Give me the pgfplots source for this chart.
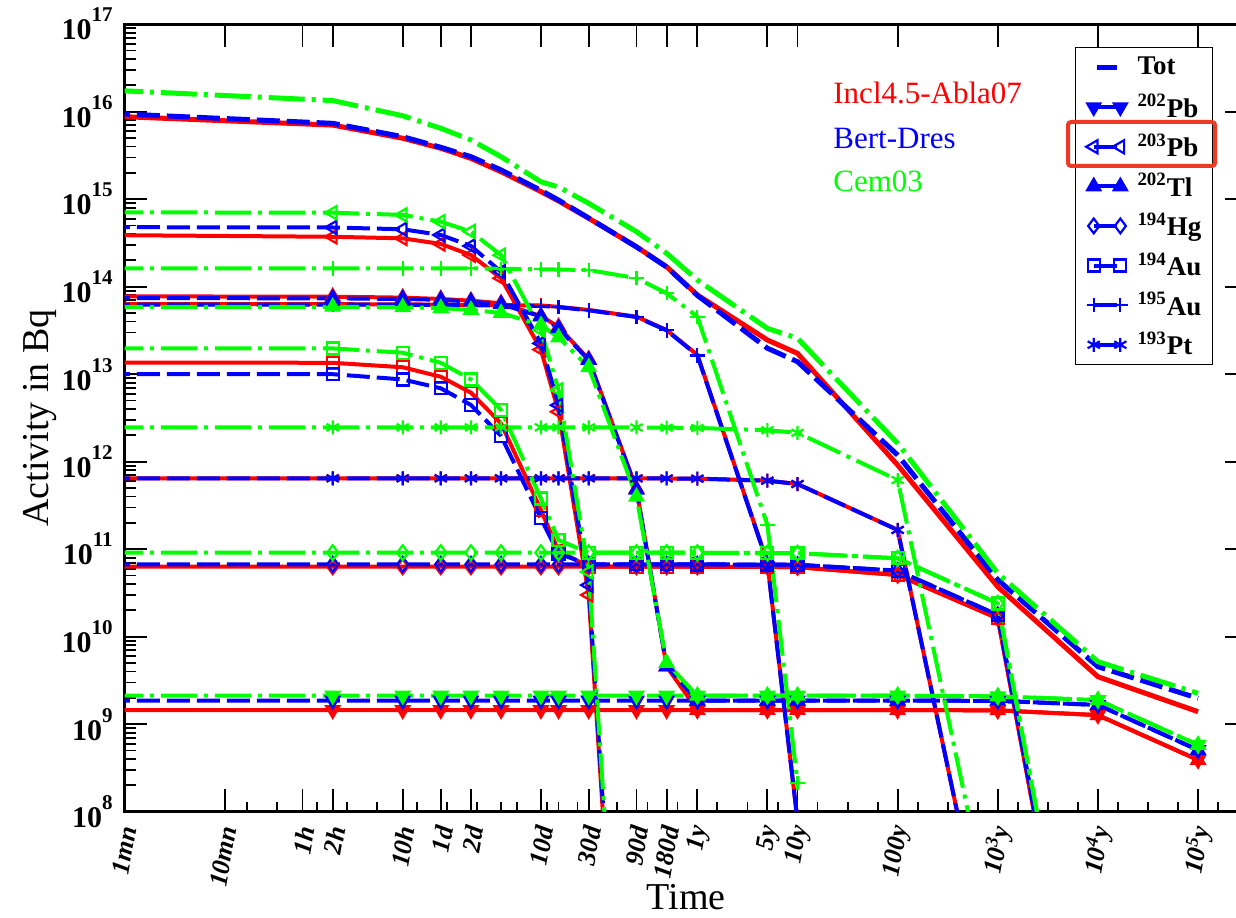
\documentclass[border=0pt]{standalone}
\usepackage{fontspec}
\setmainfont{Liberation Serif}
\usepackage{pgfplots}
\usepackage{pgfplotstable}
\pgfplotsset{compat=1.18}
\definecolor{cR}{RGB}{255,0,0}
\definecolor{cB}{RGB}{0,0,255}
\definecolor{cG}{RGB}{0,255,0}
\definecolor{hl}{RGB}{236,58,36}
\tikzset{
  R/.style={color=cR, solid, line width=2pt, every mark/.append style={solid, line width=1.1pt, fill=cR}},
  B/.style={color=cB, line width=2pt, dash pattern=on 11.5pt off 3.5pt, every mark/.append style={solid, line width=1.1pt, fill=cB}},
  G/.style={color=cG, line width=2pt, dash pattern=on 18pt off 3.5pt on 2pt off 3.5pt, every mark/.append style={solid, line width=1.1pt, fill=cG}},
  Tot/.style={line width=2.5pt, mark=none},
  mPbA/.style={mark=triangle*, mark size=3.8pt, every mark/.append style={rotate=180}},
  mPbB/.style={mark=triangle, mark size=3.8pt, every mark/.append style={rotate=90}},
  mTl/.style={mark=triangle*, mark size=3.8pt},
  mHg/.style={mark=diamond, mark size=3.7pt},
  mAuA/.style={mark=square, mark size=3pt},
  mAuB/.style={mark=+, mark size=3.6pt},
  mPt/.style={mark=asterisk, mark size=3.5pt},
}
\pgfplotsset{
  marklegend/.style={legend image code/.code={\draw[##1] plot coordinates {(0pt,0pt) (13.3pt,0pt)};}},
  totlegend/.style={legend image code/.code={\draw[##1] (1.65pt,0pt) -- (11.65pt,0pt);}},
}
\newcommand{\ylab}[1]{\fontsize{15}{15}\selectfont\bfseries 10\raisebox{9pt}{\fontsize{10.5}{10.5}\selectfont\bfseries #1}}

% time in seconds; first row (40 s) lies left of the axis start
\pgfplotstableread{
t r b g
40 8.93e15 9.59e15 1.77e16
7200 7.03e15 7.36e15 1.34e16
36000 4.97e15 5.18e15 8.99e15
86400 3.82e15 3.92e15 6.46e15
172800 2.93e15 3.06e15 4.75e15
345600 2.06e15 2.16e15 3.06e15
864000 1.22e15 1.26e15 1.58e15
1296000 9.55e14 9.77e14 1.38e15
2592000 6.05e14 6.10e14 8.97e14
7776000 2.86e14 2.85e14 4.26e14
15552000 1.69e14 1.68e14 2.41e14
31557600 8.04e13 7.94e13 1.19e14
157788000 2.46e13 1.98e13 3.34e13
315576000 1.73e13 1.39e13 2.57e13
3.15576e9 9.16e11 1.19e12 1.62e12
3.15576e10 3.72e10 4.47e10 5.30e10
3.15576e11 3.49e9 4.54e9 5.18e9
3.15576e12 1.39e9 1.98e9 2.25e9
}\tot

\pgfplotstableread{
t r b g
40 1.45e9 1.86e9 2.12e9
7200 1.45e9 1.86e9 2.12e9
36000 1.45e9 1.86e9 2.12e9
86400 1.45e9 1.86e9 2.12e9
172800 1.45e9 1.86e9 2.12e9
345600 1.45e9 1.86e9 2.12e9
864000 1.45e9 1.86e9 2.12e9
1296000 1.45e9 1.86e9 2.12e9
2592000 1.45e9 1.86e9 2.12e9
7776000 1.45e9 1.86e9 2.12e9
15552000 1.45e9 1.86e9 2.12e9
31557600 1.45e9 1.86e9 2.12e9
157788000 1.45e9 1.86e9 2.12e9
315576000 1.45e9 1.86e9 2.12e9
3.15576e9 1.45e9 1.86e9 2.12e9
3.15576e10 1.44e9 1.85e9 2.08e9
3.15576e11 1.27e9 1.66e9 1.89e9
3.15576e12 3.9e8 5.07e8 5.8e8
}\pbA

\pgfplotstableread{
t r b g
40 3.89e14 4.79e14 7.08e14
7200 3.72e14 4.75e14 7.01e14
36000 3.57e14 4.53e14 6.61e14
86400 3.08e14 3.90e14 5.53e14
172800 2.30e14 2.92e14 4.27e14
345600 1.25e14 1.48e14 2.29e14
864000 1.91e13 2.25e13 3.20e13
1296000 3.72e12 4.42e12 6.61e12
2592000 3.0e10 3.89e10 5.50e10
7776000 126 160 250
}\pbB

\pgfplotstableread{
t r b g
40 7.76e13 7.41e13 5.89e13
7200 7.69e13 7.36e13 5.89e13
36000 7.50e13 7.24e13 5.82e13
86400 7.24e13 7.08e13 5.69e13
172800 6.92e13 6.76e13 5.43e13
345600 6.46e13 6.31e13 5.01e13
864000 4.62e13 4.57e13 3.63e13
1296000 3.47e13 3.35e13 2.63e13
2592000 1.48e13 1.45e13 1.20e13
7776000 4.90e11 4.79e11 3.98e11
15552000 4.57e9 4.57e9 5.01e9
31557600 1.45e9 1.86e9 2.12e9
157788000 1.45e9 1.86e9 2.12e9
315576000 1.45e9 1.86e9 2.12e9
3.15576e9 1.45e9 1.86e9 2.12e9
3.15576e10 1.44e9 1.85e9 2.08e9
3.15576e11 1.27e9 1.66e9 1.89e9
3.15576e12 3.9e8 5.07e8 5.8e8
}\tl

\pgfplotstableread{
t r b g
40 6.31e10 6.71e10 9.12e10
7200 6.31e10 6.71e10 9.12e10
36000 6.31e10 6.71e10 9.12e10
86400 6.31e10 6.71e10 9.12e10
172800 6.31e10 6.71e10 9.12e10
345600 6.31e10 6.71e10 9.12e10
864000 6.31e10 6.71e10 9.12e10
1296000 6.31e10 6.71e10 9.12e10
2592000 6.31e10 6.71e10 9.12e10
7776000 6.31e10 6.71e10 9.12e10
15552000 6.31e10 6.71e10 9.12e10
31557600 6.30e10 6.70e10 9.10e10
157788000 6.27e10 6.67e10 9.05e10
315576000 6.23e10 6.63e10 9.0e10
3.15576e9 5.07e10 5.69e10 7.87e10
3.15576e10 1.62e10 1.77e10 2.40e10
3.15576e11 1.26e4 1.41e4 1.91e4
}\hg

\pgfplotstableread{
t r b g
40 1.36e13 1.0e13 1.97e13
7200 1.35e13 1.0e13 1.97e13
36000 1.20e13 8.71e12 1.76e13
86400 9.35e12 6.90e12 1.35e13
172800 6.15e12 4.45e12 8.71e12
345600 2.74e12 1.97e12 3.90e12
864000 2.81e11 2.25e11 3.80e11
1296000 9.55e10 8.91e10 1.27e11
2592000 6.31e10 6.71e10 9.12e10
7776000 6.31e10 6.71e10 9.12e10
15552000 6.31e10 6.71e10 9.12e10
31557600 6.30e10 6.70e10 9.10e10
157788000 6.27e10 6.67e10 9.05e10
315576000 6.23e10 6.63e10 9.0e10
3.15576e9 5.07e10 5.69e10 7.87e10
3.15576e10 1.62e10 1.77e10 2.40e10
3.15576e11 1.26e4 1.41e4 1.91e4
}\auA

\pgfplotstableread{
t r b g
40 6.31e13 6.25e13 1.62e14
7200 6.31e13 6.25e13 1.62e14
36000 6.28e13 6.22e13 1.62e14
86400 6.24e13 6.18e13 1.62e14
172800 6.19e13 6.13e13 1.62e14
345600 6.17e13 6.11e13 1.60e14
864000 6.10e13 6.04e13 1.58e14
1296000 5.89e13 5.83e13 1.57e14
2592000 5.42e13 5.37e13 1.55e14
7776000 4.54e13 4.50e13 1.25e14
15552000 3.20e13 3.17e13 8.41e13
31557600 1.66e13 1.64e13 4.54e13
157788000 7.08e10 7.0e10 1.89e11
315576000 7.94e7 7.9e7 2.14e8
}\auB

\pgfplotstableread{
t r b g
40 6.46e11 6.46e11 2.47e12
7200 6.46e11 6.46e11 2.47e12
36000 6.46e11 6.46e11 2.47e12
86400 6.46e11 6.46e11 2.47e12
172800 6.46e11 6.46e11 2.47e12
345600 6.46e11 6.46e11 2.47e12
864000 6.46e11 6.46e11 2.47e12
1296000 6.46e11 6.46e11 2.47e12
2592000 6.46e11 6.46e11 2.47e12
7776000 6.45e11 6.45e11 2.46e12
15552000 6.43e11 6.43e11 2.45e12
31557600 6.40e11 6.40e11 2.43e12
157788000 6.07e11 6.07e11 2.29e12
315576000 5.56e11 5.56e11 2.14e12
3.15576e9 1.66e11 1.66e11 6.17e11
3.15576e10 6.3e5 6.3e5 2.5e6
}\pt

\begin{document}
\begin{tikzpicture}
\path[use as bounding box] (0,0) rectangle (618pt,458.5pt);
\begin{axis}[
  at={(62.25pt,52.65pt)}, anchor=south west,
  scale only axis, width=561.85pt, height=393.75pt,
  xmode=log, ymode=log,
  xmin=60, xmax=1e13, ymin=1e8, ymax=1e17,
  axis line style={line width=1.6pt},
  tick style={black, line width=0.9pt},
  tick align=inside,
  major tick length=11.5pt, minor tick length=6pt,
  xtick={60,600,3600,7200,36000,86400,172800,864000,2592000,7776000,15552000,31557600,157788000,315576000,3.15576e9,3.15576e10,3.15576e11,3.15576e12},
  xticklabels={1mn,10mn,1h,2h,10h,1d,2d,10d,30d,90d,180d,1y,5y,10y,100y,10\textsuperscript{3}y,10\textsuperscript{4}y,10\textsuperscript{5}y},
  minor xtick={},
  xticklabel style={font=\fontsize{13}{13}\selectfont\bfseries\itshape, inner sep=0pt, xshift=2pt, yshift=-7.25pt, rotate=80, anchor=east},
  ytick={1e8,1e9,1e10,1e11,1e12,1e13,1e14,1e15,1e16,1e17},
  yticklabels={\ylab{8},\ylab{9},\ylab{10},\ylab{11},\ylab{12},\ylab{13},\ylab{14},\ylab{15},\ylab{16},\ylab{17}},
  minor ytick={2e8,3e8,4e8,5e8,6e8,7e8,8e8,9e8,2e9,3e9,4e9,5e9,6e9,7e9,8e9,9e9,2e10,3e10,4e10,5e10,6e10,7e10,8e10,9e10,2e11,3e11,4e11,5e11,6e11,7e11,8e11,9e11,2e12,3e12,4e12,5e12,6e12,7e12,8e12,9e12,2e13,3e13,4e13,5e13,6e13,7e13,8e13,9e13,2e14,3e14,4e14,5e14,6e14,7e14,8e14,9e14,2e15,3e15,4e15,5e15,6e15,7e15,8e15,9e15,2e16,3e16,4e16,5e16,6e16,7e16,8e16,9e16},
  yticklabel style={anchor=east, inner sep=0pt, xshift=-5.75pt},
  xlabel={Time},
  xlabel style={font=\fontsize{19}{19}\selectfont, at={(axis description cs:0.5,-0.1083)}, anchor=center},
  ylabel={Activity in Bq},
  ylabel style={font=\fontsize{19}{19}\selectfont, at={(axis description cs:-0.075,0.5)}, anchor=center},
  marklegend,
  legend style={at={(0.9684,0.9707)}, anchor=north east, draw=black, line width=0.5pt, fill=white,
    font=\fontsize{13.5}{14}\selectfont\bfseries, inner xsep=5.4pt, inner ysep=0pt, row sep=0pt, column sep=5pt,
    nodes={inner sep=0pt, minimum height=19.8pt}},
  legend cell align=left,
]
% Incl4.5-Abla07 (red)
\addplot[R, Tot, forget plot] table[x=t,y=r]{\tot};
\addplot[R, mPbA, forget plot] table[x=t,y=r]{\pbA};
\addplot[R, mPbB, forget plot] table[x=t,y=r]{\pbB};
\addplot[R, mTl, forget plot] table[x=t,y=r]{\tl};
\addplot[R, mHg, forget plot] table[x=t,y=r]{\hg};
\addplot[R, mAuA, forget plot] table[x=t,y=r]{\auA};
\addplot[R, mAuB, forget plot] table[x=t,y=r]{\auB};
\addplot[R, mPt, forget plot] table[x=t,y=r]{\pt};
% Bert-Dres (blue)
\addplot[B, Tot, totlegend] table[x=t,y=b]{\tot};
\addlegendentry{Tot}
\addplot[B, mPbA] table[x=t,y=b]{\pbA};
\addlegendentry{\textsuperscript{202}Pb}
\addplot[B, mPbB] table[x=t,y=b]{\pbB};
\addlegendentry{\textsuperscript{203}Pb}
\addplot[B, mTl] table[x=t,y=b]{\tl};
\addlegendentry{\textsuperscript{202}Tl}
\addplot[B, mHg] table[x=t,y=b]{\hg};
\addlegendentry{\textsuperscript{194}Hg}
\addplot[B, mAuA] table[x=t,y=b]{\auA};
\addlegendentry{\textsuperscript{194}Au}
\addplot[B, mAuB] table[x=t,y=b]{\auB};
\addlegendentry{\textsuperscript{195}Au}
\addplot[B, mPt] table[x=t,y=b]{\pt};
\addlegendentry{\textsuperscript{193}Pt}
% Cem03 (green)
\addplot[G, Tot, forget plot] table[x=t,y=g]{\tot};
\addplot[G, mPbA, forget plot] table[x=t,y=g]{\pbA};
\addplot[G, mPbB, forget plot] table[x=t,y=g]{\pbB};
\addplot[G, mTl, forget plot] table[x=t,y=g]{\tl};
\addplot[G, mHg, forget plot] table[x=t,y=g]{\hg};
\addplot[G, mAuA, forget plot] table[x=t,y=g]{\auA};
\addplot[G, mAuB, forget plot] table[x=t,y=g]{\auB};
\addplot[G, mPt, forget plot] table[x=t,y=g]{\pt};
\end{axis}
% minor ticks on the bottom axis only
\begin{axis}[
  at={(62.25pt,52.65pt)}, anchor=south west,
  scale only axis, width=561.85pt, height=393.75pt,
  xmode=log, xmin=60, xmax=1e13, ymin=0, ymax=1,
  hide y axis, axis line style={draw=none},
  xtick pos=bottom, tick align=inside,
  tick style={black, line width=0.9pt}, major tick length=5pt,
  xtick={1e3,2e3,5e3,1e4,2e4,5e4,1e5,2e5,345600,5e5,1e6,1296000,2e6,5e6,1e7,2e7,5e7,1e8,2e8,5e8,1e9,2e9,5e9,1e10,2e10,5e10,1e11,2e11,5e11,1e12,2e12,5e12},
  minor xtick={}, xticklabels={},
]
\end{axis}
\node[anchor=base west, text=cR, font=\fontsize{15.5}{16}\selectfont, inner sep=0pt] at (416.5pt,406.85pt) {Incl4.5-Abla07};
\node[anchor=base west, text=cB, font=\fontsize{15.5}{16}\selectfont, inner sep=0pt] at (416.5pt,384.35pt) {Bert-Dres};
\node[anchor=base west, text=cG, font=\fontsize{15.5}{16}\selectfont, inner sep=0pt] at (416.5pt,362.65pt) {Cem03};
\draw[hl, line width=2pt, rounded corners=1.5pt] (534pt,375.5pt) rectangle (607.5pt,397.5pt);
\end{tikzpicture}
\end{document}
